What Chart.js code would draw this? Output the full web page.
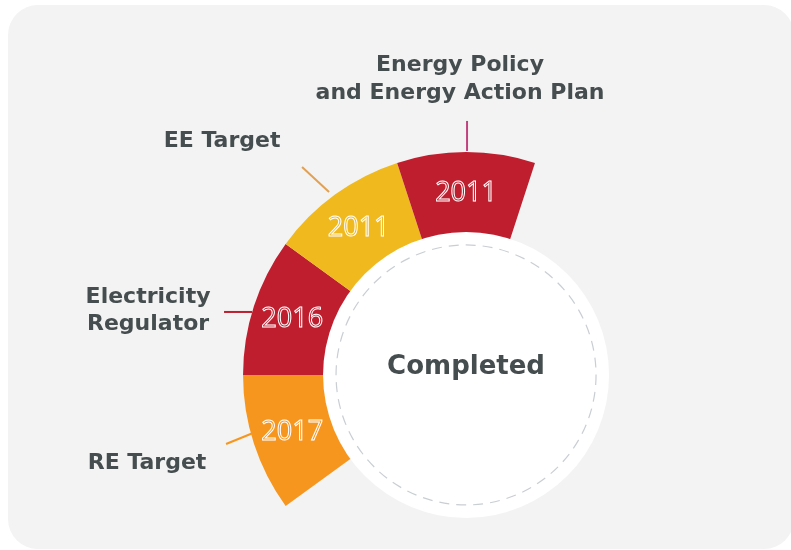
<!DOCTYPE html>
<html>
<head>
<meta charset="utf-8">
<script src="https://cdn.jsdelivr.net/npm/chart.js@4"></script>
<style>
  html, body { margin: 0; padding: 0; background: #ffffff; }
  #wrap { width: 791px; height: 550px; position: relative; }
</style>
</head>
<body>
<div id="wrap"><canvas id="milestones"></canvas></div>
<script>
const categories = ['RE Target', 'Electricity Regulator', 'EE Target', 'Energy Policy and Energy Action Plan'];
const years = ['2017', '2016', '2011', '2011'];
const weights = [1, 1, 1, 1];
const segmentColors = ['#F7961E', '#BE1E2E', '#F0B91E', '#BE1E2E'];
const leaderColors = ['#F7961E', '#BE1E2E', '#E2A052', '#C2407F'];
const centerText = 'Completed';

// label lines + leader lines, offsets from the ring centre
const labelLayout = [
    { lines: ['RE Target'], x: -319, y: [88], lead: [[-240, 69], [-213, 58]] },
    { lines: ['Electricity', 'Regulator'], x: -318, y: [-78, -51], lead: [[-242, -63], [-214, -63]] },
    { lines: ['EE Target'], x: -244, y: [-234], lead: [[-164, -208], [-137, -183]] },
    { lines: ['Energy Policy', 'and Energy Action Plan'], x: -6, y: [-310, -282], lead: [[1, -254], [1, -224]] }
];

const panelBg = {
    id: 'panelBg',
    beforeDraw(chart) {
        const ctx = chart.ctx;
        ctx.save();
        ctx.fillStyle = '#F2F3F2';
        ctx.beginPath();
        ctx.roundRect(8, 5, 786, 544, 30);
        ctx.fill();
        ctx.restore();
    }
};

const ringDecor = {
    id: 'ringDecor',
    afterDatasetsDraw(chart) {
        const ctx = chart.ctx;
        const arcs = chart.getDatasetMeta(0).data;
        const cx = arcs[0].x;
        const cy = arcs[0].y;

        ctx.save();
        // white centre disc
        ctx.fillStyle = '#FFFFFF';
        ctx.beginPath();
        ctx.arc(cx, cy, 143, 0, Math.PI * 2);
        ctx.fill();

        ctx.strokeStyle = '#C9CED3';
        ctx.lineWidth = 1.2;
        ctx.setLineDash([10, 7]);
        ctx.beginPath();
        ctx.arc(cx, cy, 130, 0, Math.PI * 2);
        ctx.stroke();
        ctx.setLineDash([]);

        ctx.fillStyle = '#454D4E';
        ctx.textAlign = 'center';
        ctx.textBaseline = 'middle';
        ctx.font = 'bold 26px "DejaVu Sans"';
        ctx.fillText(centerText, cx, cy - 8);

        // year labels inside each segment, outlined
        ctx.font = '400 27px "Open Sans"';
        ctx.strokeStyle = '#FFFFFF';
        ctx.lineWidth = 1;
        arcs.forEach((arc, i) => {
            const mid = (arc.startAngle + arc.endAngle) / 2;
            const r = (arc.innerRadius + arc.outerRadius) / 2 + 1;
            ctx.strokeText(years[i], cx + Math.cos(mid) * r, cy + Math.sin(mid) * r + 1);
        });

        // leader lines and category labels
        ctx.lineWidth = 2;
        ctx.font = 'bold 22px "DejaVu Sans"';
        ctx.fillStyle = '#454D4E';
        labelLayout.forEach((lab, i) => {
            ctx.strokeStyle = leaderColors[i];
            ctx.beginPath();
            ctx.moveTo(cx + lab.lead[0][0], cy + lab.lead[0][1]);
            ctx.lineTo(cx + lab.lead[1][0], cy + lab.lead[1][1]);
            ctx.stroke();
            lab.lines.forEach((t, j) => ctx.fillText(t, cx + lab.x, cy + lab.y[j]));
        });
        ctx.restore();
    }
};

new Chart(document.getElementById('milestones'), {
    type: 'doughnut',
    data: {
        labels: categories,
        datasets: [{
            data: weights,
            backgroundColor: segmentColors,
            borderWidth: 0
        }]
    },
    options: {
        responsive: true,
        maintainAspectRatio: false,
        animation: false,
        rotation: -126,
        circumference: 144,
        radius: 223,
        cutout: '63%',
        layout: { padding: { left: 0, right: 13, top: 108, bottom: 0 } },
        plugins: {
            legend: { display: false },
            tooltip: { enabled: false }
        }
    },
    plugins: [panelBg, ringDecor]
});
</script>
</body>
</html>
